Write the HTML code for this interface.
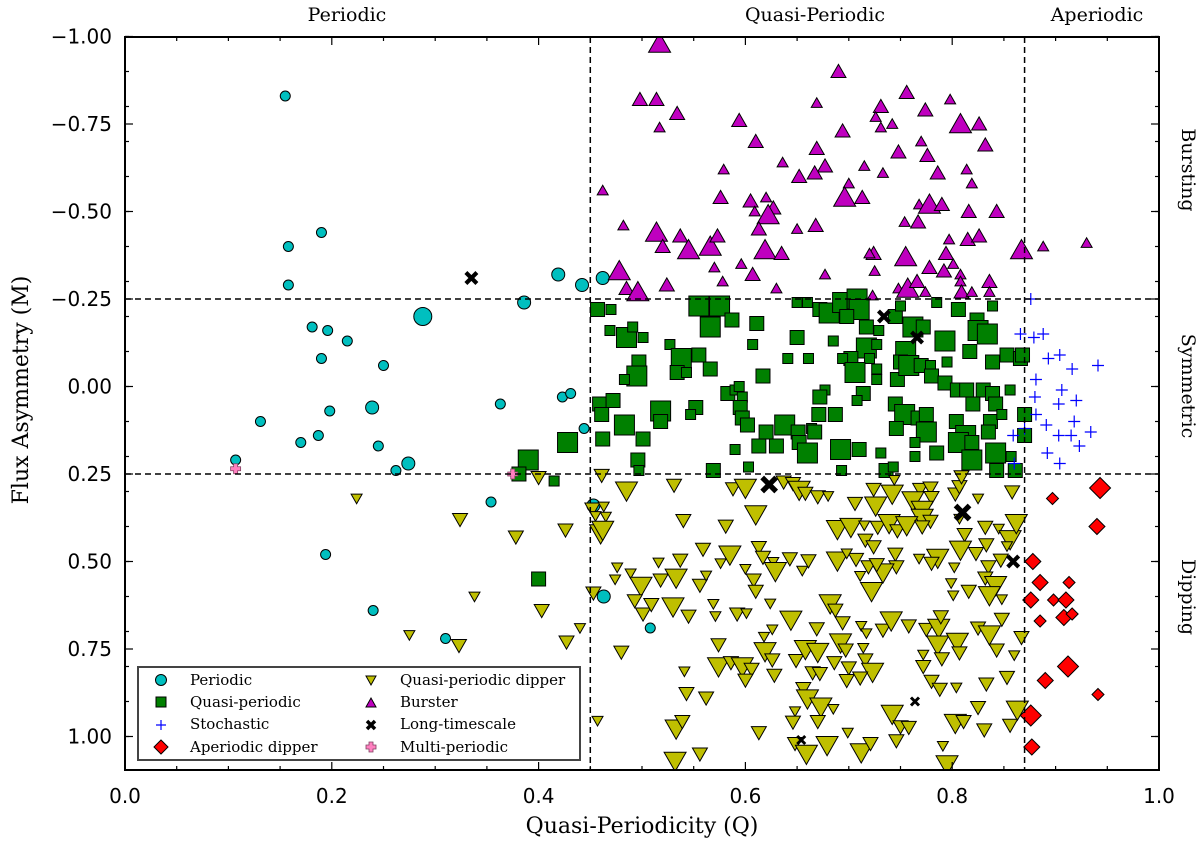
<!DOCTYPE html>
<html><head><meta charset="utf-8"><style>
html,body{margin:0;padding:0;background:#fff;}
svg{display:block;}
</style></head><body>
<svg id="chart" width="1200" height="847" viewBox="0 0 1200 847" xmlns="http://www.w3.org/2000/svg">
<defs><clipPath id="plotclip"><rect x="125" y="37" width="1034" height="733"/></clipPath></defs>
<g id="marks" clip-path="url(#plotclip)"></g>
<g id="axes"></g>
</svg>
<script>
// data: [Q, M, sizeClass]
const periodic = [[.155,-.83,1],[.158,-.40,1],[.19,-.44,1],[.158,-.29,1],[.288,-.20,3],[.181,-.17,1],[.196,-.16,1],[.215,-.13,1],[.19,-.08,1],[.25,-.06,1],[.131,.10,1],[.198,.07,1],[.239,.06,2],[.187,.14,1],[.17,.16,1],[.245,.17,1],[.107,.21,1],[.274,.22,2],[.262,.24,1],[.354,.33,1],[.386,-.24,2],[.419,-.32,2],[.442,-.29,2],[.462,-.31,2],[.363,.05,1],[.423,.03,1],[.431,.02,1],[.444,.12,1],[.453,.34,2],[.194,.48,1],[.463,.60,2],[.24,.64,1],[.31,.72,1],[.508,.69,1]];
const quasiPeriodic = [[.39,.21,3],[.428,.16,3],[.381,.25,2],[.415,.27,1],[.40,.55,2],[.457,-.22,2],[.47,-.22,1],[.555,-.23,3],[.575,-.23,3],[.587,-.19,2],[.566,-.17,3],[.611,-.18,2],[.469,-.16,1],[.485,-.14,3],[.491,-.17,1],[.501,-.14,1],[.65,-.24,1],[.66,-.24,1],[.672,-.22,2],[.681,-.21,3],[.694,-.24,3],[.708,-.25,3],[.71,-.22,3],[.698,-.20,2],[.717,-.17,2],[.729,-.16,1],[.745,-.20,2],[.75,-.23,1],[.785,-.24,1],[.806,-.22,2],[.839,-.23,1],[.762,-.17,3],[.772,-.17,2],[.793,-.13,3],[.824,-.19,2],[.825,-.16,3],[.834,-.15,3],[.817,-.10,2],[.607,-.12,1],[.65,-.14,2],[.685,-.13,1],[.717,-.11,3],[.727,-.12,1],[.755,-.10,3],[.527,-.12,1],[.538,-.08,3],[.555,-.09,2],[.566,-.05,2],[.534,-.04,2],[.543,-.04,1],[.497,-.07,2],[.495,-.03,3],[.483,-.02,1],[.641,-.08,1],[.661,-.08,1],[.702,-.08,2],[.694,-.08,1],[.72,-.08,1],[.706,-.04,3],[.727,-.05,1],[.727,-.02,1],[.747,-.02,2],[.75,-.07,2],[.758,-.06,3],[.77,-.06,2],[.779,-.06,1],[.795,-.07,1],[.839,-.07,2],[.853,-.09,2],[.866,-.08,2],[.617,-.03,2],[.78,-.03,2],[.793,-.01,2],[.805,.01,2],[.814,.01,2],[.83,.01,2],[.839,.02,2],[.856,.01,1],[.842,.05,2],[.82,.05,2],[.714,.02,2],[.708,.04,1],[.677,.01,1],[.672,.03,2],[.671,.08,2],[.687,.08,2],[.583,.02,2],[.59,.01,1],[.594,0,1],[.597,.03,1],[.595,.06,2],[.597,.09,2],[.602,.11,2],[.459,.05,2],[.461,.08,2],[.472,.04,2],[.518,.07,3],[.518,.10,2],[.552,.06,2],[.547,.08,1],[.483,.11,3],[.462,.15,2],[.501,.15,2],[.638,.11,3],[.651,.13,2],[.652,.16,2],[.664,.12,1],[.667,.13,2],[.62,.13,2],[.613,.17,2],[.63,.17,2],[.66,.19,3],[.59,.18,1],[.745,.05,2],[.754,.08,3],[.746,.12,2],[.767,.09,2],[.775,.08,2],[.775,.13,3],[.764,.16,1],[.804,.10,2],[.813,.14,3],[.806,.16,3],[.819,.16,2],[.837,.10,2],[.848,.08,1],[.835,.13,2],[.87,.14,2],[.692,.18,3],[.71,.18,2],[.731,.19,1],[.764,.20,1],[.785,.19,2],[.819,.21,3],[.842,.19,3],[.857,.20,1],[.496,.21,2],[.497,.24,1],[.569,.24,2],[.603,.23,1],[.693,.24,1],[.736,.24,2],[.743,.23,1],[.843,.24,2],[.861,.24,2],[.868,-.09,2],[.87,.08,2]];
const stochastic = [[.876,-.25],[.879,-.14],[.888,-.15],[.866,-.15],[.893,-.08],[.904,-.09],[.916,-.05],[.941,-.06],[.881,-.02],[.906,.01],[.88,.03],[.903,.05],[.92,.04],[.881,.08],[.87,.12],[.859,.14],[.891,.11],[.903,.14],[.915,.14],[.934,.13],[.892,.19],[.904,.22],[.923,.17],[.918,.10],[.86,.22]];
const aperiodicDipper = [[.943,.29,3],[.897,.32,1],[.940,.40,2],[.878,.50,2],[.885,.56,2],[.913,.56,1],[.898,.61,1],[.876,.61,2],[.885,.67,1],[.908,.66,2],[.916,.65,1],[.912,.80,3],[.89,.84,2],[.876,.94,3],[.941,.88,1],[.877,1.03,2],[.91,.61,2]];
const qpDipper = [[.224,.32,1],[.324,.38,2],[.378,.43,2],[.426,.41,2],[.40,.26,2],[.338,.60,1],[.403,.64,2],[.275,.71,1],[.323,.74,2],[.427,.73,2],[.44,.69,1],[.46,.42,3],[.452,.35,2],[.455,.37,1],[.453,.59,2],[.461,.254,2],[.485,.298,3],[.531,.282,2],[.588,.292,2],[.600,.290,3],[.637,.273,2],[.646,.277,2],[.652,.296,3],[.658,.305,2],[.670,.315,2],[.680,.313,1],[.706,.334,2],[.726,.341,3],[.724,.294,2],[.742,.307,3],[.744,.267,1],[.769,.294,2],[.779,.290,2],[.780,.317,2],[.762,.326,3],[.771,.353,3],[.771,.376,3],[.779,.385,2],[.803,.307,2],[.807,.286,2],[.809,.258,2],[.825,.320,1],[.858,.301,2],[.463,.343,1],[.465,.372,1],[.462,.410,3],[.540,.383,2],[.581,.399,2],[.610,.366,3],[.689,.408,3],[.702,.402,3],[.715,.397,1],[.728,.402,2],[.739,.391,3],[.747,.412,2],[.756,.397,3],[.771,.401,2],[.807,.378,1],[.812,.423,2],[.832,.402,2],[.845,.406,1],[.856,.437,3],[.862,.391,3],[.808,.467,3],[.823,.477,2],[.833,.452,2],[.853,.456,1],[.847,.496,2],[.835,.515,2],[.832,.547,2],[.842,.568,3],[.836,.597,3],[.848,.608,1],[.802,.517,1],[.799,.562,1],[.801,.597,1],[.816,.585,2],[.786,.490,3],[.780,.505,2],[.768,.492,1],[.745,.479,2],[.746,.515,2],[.733,.532,3],[.722,.585,3],[.711,.541,1],[.719,.515,2],[.727,.509,2],[.707,.494,2],[.689,.498,3],[.698,.477,1],[.716,.439,2],[.724,.458,2],[.559,.465,2],[.585,.481,3],[.613,.460,2],[.617,.488,2],[.627,.501,1],[.629,.528,3],[.643,.492,2],[.655,.526,1],[.661,.498,2],[.537,.496,2],[.516,.503,1],[.476,.517,1],[.474,.551,1],[.489,.534,1],[.499,.570,3],[.518,.553,2],[.533,.547,3],[.556,.568,2],[.562,.540,1],[.576,.505,1],[.600,.521,1],[.608,.553,2],[.610,.585,2],[.624,.620,1],[.493,.612,2],[.501,.650,2],[.509,.623,2],[.530,.629,3],[.545,.656,2],[.569,.621,1],[.571,.656,1],[.592,.650,2],[.601,.648,1],[.682,.620,3],[.687,.639,2],[.644,.667,3],[.669,.692,2],[.694,.675,2],[.712,.684,1],[.717,.705,1],[.733,.696,2],[.741,.669,3],[.758,.684,2],[.775,.694,2],[.787,.690,3],[.789,.658,2],[.825,.690,2],[.836,.709,3],[.848,.665,2],[.867,.717,2],[.860,.768,1],[.843,.753,2],[.618,.715,1],[.626,.694,1],[.619,.757,3],[.626,.781,2],[.649,.783,2],[.658,.751,3],[.670,.759,3],[.692,.732,3],[.697,.753,2],[.714,.747,1],[.686,.789,2],[.700,.804,2],[.716,.781,2],[.723,.816,3],[.786,.738,3],[.805,.730,3],[.807,.761,2],[.790,.778,2],[.772,.766,1],[.772,.800,2],[.480,.759,2],[.574,.738,2],[.574,.800,3],[.586,.789,2],[.597,.800,3],[.606,.808,2],[.600,.839,2],[.628,.825,2],[.541,.814,1],[.665,.818,2],[.672,.820,2],[.698,.840,2],[.711,.833,2],[.656,.863,2],[.660,.892,3],[.673,.915,3],[.685,.921,1],[.670,.957,2],[.648,.928,1],[.646,.959,2],[.543,.877,2],[.562,.890,2],[.780,.842,2],[.788,.865,2],[.804,.860,1],[.833,.850,2],[.853,.831,2],[.742,.936,3],[.750,.972,2],[.758,.974,2],[.825,.917,2],[.803,.962,3],[.811,.957,2],[.831,.981,2],[.863,.924,3],[.856,.968,2],[.457,.955,1],[.533,.978,3],[.539,.957,2],[.613,.989,2],[.648,1.02,2],[.659,1.05,3],[.679,1.025,3],[.699,.989,1],[.712,1.046,3],[.721,1.02,2],[.746,1.012,2],[.791,1.027,1],[.795,1.08,3],[.532,1.07,3],[.556,1.05,2]];
const burster = [[.517,-.98,3],[.690,-.90,2],[.498,-.82,2],[.514,-.82,2],[.534,-.78,2],[.517,-.74,1],[.594,-.76,2],[.669,-.81,1],[.756,-.84,2],[.731,-.80,2],[.774,-.79,2],[.798,-.82,1],[.808,-.75,3],[.826,-.75,2],[.726,-.77,1],[.731,-.74,1],[.742,-.75,1],[.694,-.73,2],[.610,-.70,2],[.669,-.68,2],[.770,-.70,1],[.748,-.67,2],[.832,-.69,2],[.776,-.66,2],[.636,-.64,1],[.677,-.63,2],[.667,-.61,2],[.652,-.60,2],[.579,-.62,1],[.715,-.63,1],[.733,-.61,1],[.786,-.61,2],[.814,-.62,1],[.819,-.58,1],[.462,-.56,1],[.700,-.58,1],[.696,-.54,3],[.713,-.54,2],[.576,-.54,2],[.605,-.53,2],[.620,-.54,1],[.627,-.51,2],[.622,-.49,3],[.609,-.50,1],[.768,-.52,1],[.778,-.52,3],[.790,-.52,2],[.816,-.50,2],[.843,-.50,2],[.754,-.47,1],[.767,-.47,2],[.482,-.46,1],[.514,-.44,3],[.537,-.43,2],[.520,-.40,2],[.545,-.39,3],[.566,-.40,3],[.573,-.43,2],[.613,-.45,2],[.650,-.45,1],[.668,-.46,2],[.619,-.39,3],[.635,-.38,2],[.724,-.38,2],[.720,-.38,1],[.755,-.37,3],[.794,-.38,2],[.797,-.42,1],[.815,-.42,2],[.826,-.43,2],[.867,-.39,3],[.478,-.33,3],[.570,-.34,1],[.596,-.35,1],[.607,-.32,2],[.677,-.32,1],[.725,-.33,1],[.778,-.34,2],[.792,-.33,2],[.801,-.35,1],[.485,-.28,2],[.496,-.27,3],[.524,-.29,2],[.578,-.30,1],[.630,-.28,1],[.723,-.26,1],[.748,-.28,1],[.757,-.28,3],[.766,-.30,2],[.774,-.27,1],[.808,-.32,1],[.808,-.30,1],[.809,-.27,2],[.819,-.27,1],[.836,-.30,2],[.836,-.27,1],[.888,-.40,1],[.93,-.41,1]];
const longTimescale = [[.335,-.31,2],[.734,-.20,2],[.766,-.14,2],[.623,.28,3],[.81,.36,3],[.859,.50,2],[.764,.90,1],[.654,1.01,1]];
const multiPeriodic = [[.107,.235],[.375,.25]];
const xTicks = [0,0.2,0.4,0.6,0.8,1.0];
const xTickLabels = ["0.0","0.2","0.4","0.6","0.8","1.0"];
const yTicks = [-1,-0.75,-0.5,-0.25,0,0.25,0.5,0.75,1.0];
const yTickLabels = ["\u22121.00","\u22120.75","\u22120.50","\u22120.25","0.00","0.25","0.50","0.75","1.00"];

const NS="http://www.w3.org/2000/svg";
const X0=125,X1=1159,YT=37,YB=770;
const sx=q=>X0+q*(X1-X0);
const sy=m=>386.5+m*350;
const marks=document.getElementById('marks');
const axes=document.getElementById('axes');
function mk(tag,attrs,parent){const e=document.createElementNS(NS,tag);for(const k in attrs)e.setAttribute(k,attrs[k]);(parent||marks).appendChild(e);return e;}

function circle(x,y,s,parent){const r=[0,5,6.5,9][s];return mk('circle',{cx:x,cy:y,r:r,fill:'#00bfbf',stroke:'#000','stroke-width':1},parent);}
function square(x,y,s,parent){const h=[0,5,7,10][s];return mk('rect',{x:x-h,y:y-h,width:2*h,height:2*h,fill:'#008000',stroke:'#000','stroke-width':1},parent);}
function tri(x,y,s,down,color,parent){const h=[0,5.5,7.5,11][s];const d=down?1:-1;return mk('polygon',{points:`${x-h},${y-d*h*0.8} ${x+h},${y-d*h*0.8} ${x},${y+d*h*0.95}`,fill:color,stroke:'#000','stroke-width':1},parent);}
function diamond(x,y,s,parent){const h=[0,6,8,10.5][s];return mk('polygon',{points:`${x},${y-h} ${x+h},${y} ${x},${y+h} ${x-h},${y}`,fill:'#ff0000',stroke:'#000','stroke-width':1},parent);}
function plus(x,y,parent){return mk('path',{d:`M${x-6} ${y}H${x+6}M${x} ${y-6}V${y+6}`,stroke:'#0000ff','stroke-width':1.2,fill:'none'},parent);}
function cross(x,y,s,parent){const h=[0,4,5.5,7][s];return mk('path',{d:`M${x-h} ${y-h}L${x+h} ${y+h}M${x+h} ${y-h}L${x-h} ${y+h}`,stroke:'#000','stroke-width':h*0.75,fill:'none'},parent);}
function pinkPlus(x,y,parent){return mk('path',{d:`M${x-5} ${y-2}h3v-3h4v3h3v4h-3v3h-4v-3h-3z`,fill:'#ff80c0',stroke:'#804060','stroke-width':0.8},parent);}

periodic.forEach(d=>{const e=circle(sx(d[0]),sy(d[1]),d[2]);

});
quasiPeriodic.forEach(d=>{const e=square(sx(d[0]),sy(d[1]),d[2]);

});
stochastic.forEach(d=>{const e=plus(sx(d[0]),sy(d[1]));

});
aperiodicDipper.forEach(d=>{const e=diamond(sx(d[0]),sy(d[1]),d[2]);

});
qpDipper.forEach(d=>{const e=tri(sx(d[0]),sy(d[1]),d[2],true,'#bfbf00');

});
burster.forEach(d=>{const e=tri(sx(d[0]),sy(d[1]),d[2],false,'#bf00bf');

});
longTimescale.forEach(d=>{const e=cross(sx(d[0]),sy(d[1]),d[2]);

});
multiPeriodic.forEach(d=>{const e=pinkPlus(sx(d[0]),sy(d[1]));

});

[[sx(0.45),YT,sx(0.45),YB],[sx(0.87),YT,sx(0.87),YB],[X0,sy(-0.25),X1,sy(-0.25)],[X0,sy(0.25),X1,sy(0.25)]].forEach(l=>{
const e=mk('line',{x1:l[0],y1:l[1],x2:l[2],y2:l[3],stroke:'#000','stroke-width':1.5,'stroke-dasharray':'6,4'},axes);

});

const fr=mk('rect',{x:X0,y:YT,width:X1-X0,height:YB-YT,fill:'none',stroke:'#000','stroke-width':2},axes);



for(let i=0;i<=20;i++){const q=i*0.05,x=sx(q);const major=(i%4===0);const L=major?8:4;
mk('line',{x1:x,y1:YB,x2:x,y2:YB-L,stroke:'#000','stroke-width':1.2},axes);
mk('line',{x1:x,y1:YT,x2:x,y2:YT+L,stroke:'#000','stroke-width':1.2},axes);}
for(let i=-10;i<=10;i++){const y=sy(i*0.1);mk('line',{x1:X0,y1:y,x2:X0+4,y2:y,stroke:'#000','stroke-width':1.2},axes);mk('line',{x1:X1,y1:y,x2:X1-4,y2:y,stroke:'#000','stroke-width':1.2},axes);}
yTicks.forEach((v,i)=>{const y=sy(v);
mk('line',{x1:X0,y1:y,x2:X0+8,y2:y,stroke:'#000','stroke-width':1.2},axes);
mk('line',{x1:X1,y1:y,x2:X1-8,y2:y,stroke:'#000','stroke-width':1.2},axes);
const t=mk('text',{x:112,y:y+7,'text-anchor':'end','font-family':'"DejaVu Sans","Liberation Sans",sans-serif','font-size':20,fill:'#000'},axes);
t.textContent=yTickLabels[i];

});
xTicks.forEach((v,i)=>{const t=mk('text',{x:sx(v),y:803,'text-anchor':'middle','font-family':'"DejaVu Sans","Liberation Sans",sans-serif','font-size':20,fill:'#000'},axes);
t.textContent=xTickLabels[i];

});
</script>
<svg width="1200" height="847" style="position:absolute;left:0;top:0">
<g font-family="'DejaVu Serif','Liberation Serif',serif" fill="#000">
<text x="642" y="833" font-size="22" text-anchor="middle">Quasi-Periodicity (Q)</text>
<text transform="translate(28,390) rotate(-90)" font-size="22" text-anchor="middle">Flux Asymmetry (M)</text>
<text x="347" y="21" font-size="19" text-anchor="middle">Periodic</text>
<text x="815" y="21" font-size="19" text-anchor="middle">Quasi-Periodic</text>
<text x="1097" y="21" font-size="19" text-anchor="middle">Aperiodic</text>
<text transform="translate(1182,170) rotate(90)" font-size="19" text-anchor="middle">Bursting</text>
<text transform="translate(1182,386) rotate(90)" font-size="19" text-anchor="middle">Symmetric</text>
<text transform="translate(1182,597) rotate(90)" font-size="19" text-anchor="middle">Dipping</text>
</g>
<g>
<rect x="138" y="667" width="442" height="93" fill="#fff" stroke="#444" stroke-width="2"/>
<g font-family="'DejaVu Serif','Liberation Serif',serif" font-size="15" fill="#000">
<g><circle cx="161" cy="680" r="5.5" fill="#00bfbf" stroke="#000"/><text x="190" y="685">Periodic</text></g>
<g><rect x="156" y="697" width="10" height="10" fill="#008000" stroke="#000"/><text x="190" y="707">Quasi-periodic</text></g>
<g><path d="M156 725H166M161 720V730" stroke="#0000ff" stroke-width="1.2"/><text x="190" y="729">Stochastic</text></g>
<g><polygon points="161,740 168,747 161,754 154,747" fill="#ff0000" stroke="#000"/><text x="190" y="752">Aperiodic dipper</text></g>
<g><polygon points="366,676 376,676 371,685" fill="#bfbf00" stroke="#000"/><text x="400" y="685">Quasi-periodic dipper</text></g>
<g><polygon points="366,707 376,707 371,698" fill="#bf00bf" stroke="#000"/><text x="400" y="707">Burster</text></g>
<g><path d="M367 721L375 729M375 721L367 729" stroke="#000" stroke-width="3.5"/><text x="400" y="729">Long-timescale</text></g>
<g><path d="M366 745h3v-3h4v3h3v4h-3v3h-4v-3h-3z" fill="#ff80c0" stroke="#804060" stroke-width="0.8"/><text x="400" y="752">Multi-periodic</text></g>
</g>
</g>
</svg>
</body></html>
